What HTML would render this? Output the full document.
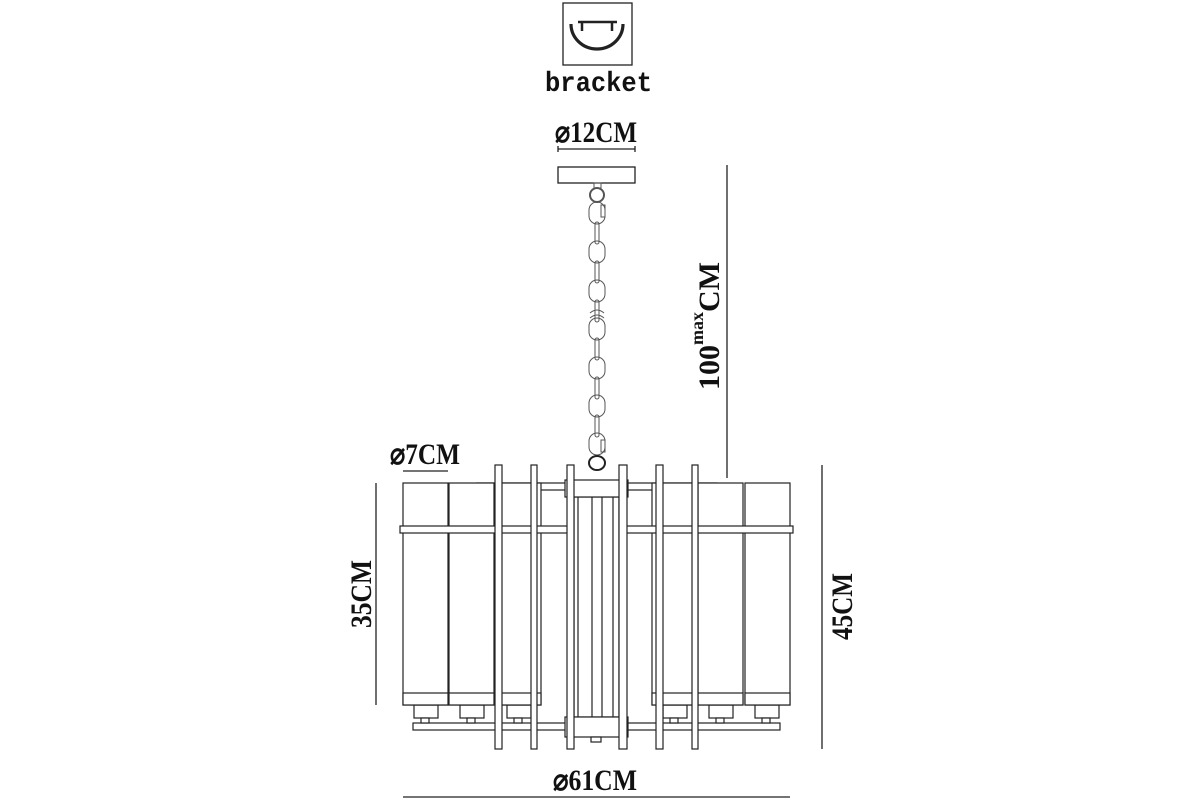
<!DOCTYPE html>
<html><head><meta charset="utf-8"><style>
html,body{margin:0;padding:0;background:#fff;}
svg{display:block}
text{font-family:"Liberation Serif",serif;fill:#111}
.d{font-size:30px;font-weight:bold}
</style></head><body>
<svg width="1200" height="800" viewBox="0 0 1200 800" xmlns="http://www.w3.org/2000/svg">
<g fill="none" stroke="#222" stroke-width="1.3">
<rect x="563" y="3" width="69" height="62"/>
<path d="M571 24 A26 25 0 0 0 623 24" stroke-width="3.2"/>
<path d="M578 22 H617 M582 22 V31 M612 22 V31" stroke-width="2.5"/>
<rect x="558" y="167" width="77" height="16"/>
<path d="M558 149 H635 M558 146 V152 M635 146 V152"/>
<path d="M727 165 V478"/>
<path d="M403 471 H448"/>
<path d="M376 483 V705"/>
<path d="M822 465 V749"/>
<path d="M403 797 H790"/>
</g>
<g fill="none" stroke="#555" stroke-width="1">
<ellipse cx="597" cy="195" rx="7" ry="7" stroke-width="2"/>
<rect x="594" y="183" width="7" height="5"/>
<rect x="601" y="205" width="4" height="12"/>
<g id="lk">
<rect x="589" y="202" width="16" height="22" rx="8"/>
<rect x="595" y="222" width="4" height="22" rx="2"/>
</g>
<use href="#lk" y="39"/><use href="#lk" y="78"/><use href="#lk" y="116"/>
<use href="#lk" y="155"/><use href="#lk" y="193"/>
<rect x="589" y="433" width="16" height="22" rx="8"/>
<rect x="601" y="440" width="4" height="12"/>
<path d="M590 313 q7 -6 14 0 M590 318 q7 -6 14 0"/>
<ellipse cx="597" cy="463" rx="8" ry="7" stroke-width="2" stroke="#222"/>
</g>
<g fill="#fff" stroke="#222" stroke-width="1.2">
<rect x="413" y="723" width="367" height="7"/>
<rect x="477" y="483" width="240" height="7"/>
<g id="sk"><rect x="414" y="705" width="24" height="13"/><rect x="421" y="718" width="8" height="5"/></g>
<use href="#sk" x="46"/><use href="#sk" x="93"/><use href="#sk" x="249"/><use href="#sk" x="295"/><use href="#sk" x="341"/>
<g id="cy"><rect x="403" y="483" width="45" height="222"/><rect x="403" y="693" width="45" height="12"/></g>
<use href="#cy" x="46"/><use href="#cy" x="93"/><use href="#cy" x="249"/><use href="#cy" x="295"/><use href="#cy" x="342"/>
<rect x="400" y="526" width="168" height="7"/>
<rect x="626" y="526" width="167" height="7"/>
<rect x="574" y="497" width="45" height="220"/>
<path d="M578 497 V717 M592 497 V717 M602 497 V717 M613 497 V717" fill="none"/>
<rect x="565" y="480" width="63" height="17"/>
<rect x="565" y="717" width="63" height="20"/>
<rect x="591" y="737" width="10" height="5"/>
<rect x="495" y="465" width="7" height="284"/>
<rect x="531" y="465" width="6" height="284"/>
<rect x="567" y="465" width="7" height="284"/>
<rect x="619" y="465" width="8" height="284"/>
<rect x="656" y="465" width="7" height="284"/>
<rect x="692" y="465" width="6" height="284"/>
</g>
<text x="545" y="91" font-size="28" font-weight="bold" textLength="107" lengthAdjust="spacingAndGlyphs" style="font-family:'Liberation Mono',monospace">bracket</text>
<text class="d" x="555" y="142" textLength="82" lengthAdjust="spacingAndGlyphs">⌀12CM</text>
<text class="d" x="390" y="464" textLength="70" lengthAdjust="spacingAndGlyphs">⌀7CM</text>
<text class="d" x="553" y="790" textLength="84" lengthAdjust="spacingAndGlyphs">⌀61CM</text>
<text class="d" transform="translate(371,628) rotate(-90)" textLength="68" lengthAdjust="spacingAndGlyphs">35CM</text>
<text class="d" transform="translate(852,640) rotate(-90)" textLength="67" lengthAdjust="spacingAndGlyphs">45CM</text>
<text class="d" transform="translate(719,390) rotate(-90)">100<tspan font-size="18" dy="-16">max</tspan><tspan dy="16">CM</tspan></text>
</svg>
</body></html>
